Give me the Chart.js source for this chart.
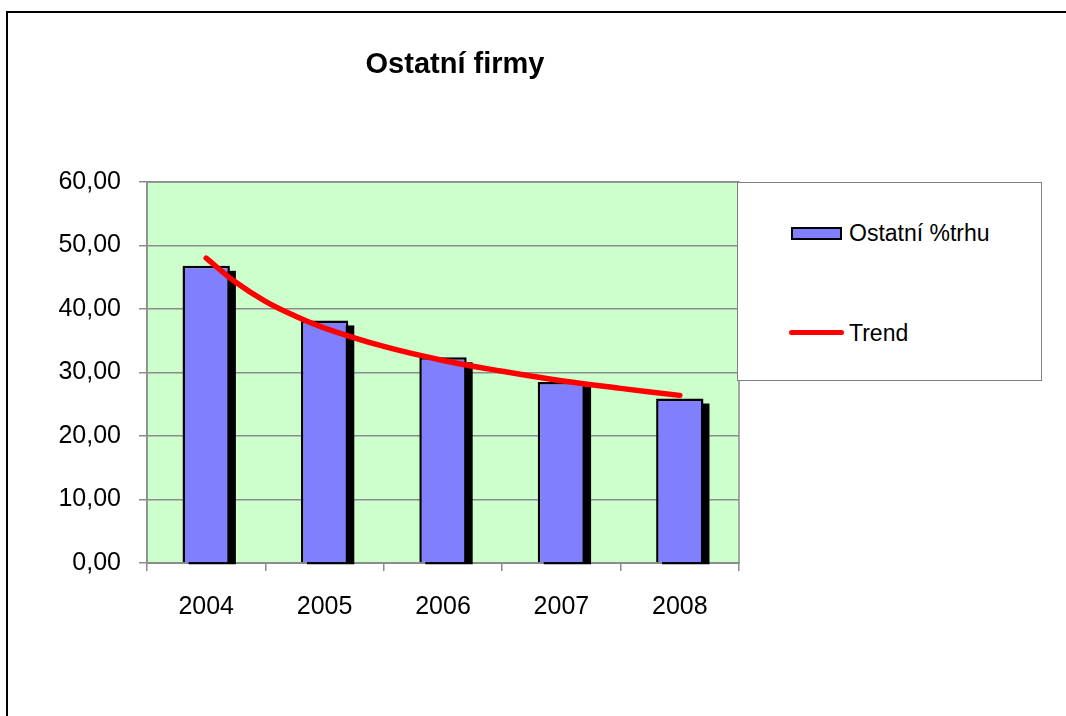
<!DOCTYPE html>
<html>
<head>
<meta charset="utf-8">
<script src="https://cdn.jsdelivr.net/npm/chart.js@4.4.1/dist/chart.umd.min.js"></script>
<style>
  html, body { margin: 0; padding: 0; background: #fff; }
  #wrap { position: relative; width: 1066px; height: 716px; overflow: hidden; font-family: "Liberation Sans", Arial, sans-serif; }
  #frame { position: absolute; left: 6px; top: 11px; width: 1100px; height: 800px; border: 2px solid #000; box-sizing: border-box; }
  #c { position: absolute; left: 0; top: 0; }
  #title { position: absolute; left: 0; width: 910px; top: 46px; text-align: center; font-weight: bold; font-size: 29px; line-height: 34px; color: #000; }
  #legend { position: absolute; left: 737px; top: 182px; width: 305px; height: 199px; border: 1px solid #808080; box-sizing: border-box; background: #fff; }
  .item { position: absolute; left: 0; font-size: 23px; line-height: 28px; color: #000; }
  .sym-bar { position: absolute; left: 53px; width: 51px; height: 13px; background: #8080FF; border: 2px solid #000; box-sizing: border-box; }
  .sym-line { position: absolute; left: 51px; width: 55px; height: 5px; background: #FF0000; border-radius: 3px; }
  .lbl { position: absolute; left: 111px; white-space: nowrap; }
</style>
</head>
<body>
<div id="wrap">
  <div id="frame"></div>
  <canvas id="c" width="1066" height="716"></canvas>
  <div id="title">Ostatní firmy</div>
  <div id="legend"></div>
</div>
<script>
// ---- data ----
const categories = ['2004', '2005', '2006', '2007', '2008'];
const barLabel = 'Ostatní %trhu';
const barValues = [46.8, 38.2, 32.4, 28.5, 25.9];
const trendLabel = 'Trend';
const trendYears = [2004, 2004.25, 2004.5, 2004.75, 2005, 2005.5, 2006, 2006.5, 2007, 2007.5, 2008];
const trendValues = [48.0, 44.2, 41.2, 38.9, 37.0, 34.1, 31.9, 30.2, 28.7, 27.5, 26.4];
const yTickLabels = ['0,00', '10,00', '20,00', '30,00', '40,00', '50,00', '60,00'];

// ---- legend (HTML) ----
const legend = document.getElementById('legend');
legend.innerHTML =
  '<div class="item" style="top:0"><div class="sym-bar" style="top:44px"></div><div class="lbl" style="top:36px">' + barLabel + '</div></div>' +
  '<div class="item" style="top:0"><div class="sym-line" style="top:147px"></div><div class="lbl" style="top:136px">' + trendLabel + '</div></div>';

const GRID = '#8c8c8c';
const FONT = "'Liberation Sans', Arial, sans-serif";

const plotDecor = {
  id: 'plotDecor',
  beforeDraw(chart) {
    const { ctx, chartArea: a } = chart;
    ctx.save();
    ctx.fillStyle = '#CCFFCC';
    ctx.fillRect(a.left, a.top, a.right - a.left, a.bottom - a.top);
    ctx.strokeStyle = GRID;
    ctx.lineWidth = 1.5;
    ctx.strokeRect(a.left, a.top, a.right - a.left, a.bottom - a.top);
    ctx.restore();
  },
  beforeDatasetsDraw(chart) {
    const { ctx } = chart;
    const meta = chart.getDatasetMeta(0);
    ctx.save();
    ctx.fillStyle = '#000';
    meta.data.forEach(el => {
      const p = el.getProps(['x', 'y', 'base', 'width'], true);
      ctx.fillRect(p.x - p.width / 2 + 6, p.y + 5, p.width, p.base + 2 - (p.y + 5));
    });
    ctx.restore();
  }
};

new Chart(document.getElementById('c'), {
  data: {
    labels: categories,
    datasets: [
      {
        type: 'bar',
        label: barLabel,
        data: barValues,
        backgroundColor: '#8080FF',
        borderColor: '#000',
        borderWidth: 2.5,
        borderSkipped: 'start',
        barPercentage: 0.4,
        categoryPercentage: 1,
        grouped: false,
        order: 2,
        xAxisID: 'x'
      },
      {
        type: 'line',
        label: trendLabel,
        data: trendYears.map((t, i) => ({ x: t, y: trendValues[i] })),
        borderColor: '#FF0000',
        borderWidth: 5.5,
        borderCapStyle: 'round',
        pointRadius: 0,
        tension: 0.4,
        fill: false,
        order: 1,
        xAxisID: 'xl'
      }
    ]
  },
  options: {
    responsive: false,
    animation: false,
    events: [],
    layout: { padding: { left: 0, top: 182, right: 327, bottom: 0 } },
    plugins: { legend: { display: false }, title: { display: false }, tooltip: { enabled: false } },
    scales: {
      x: {
        type: 'category',
        offset: true,
        z: 1,
        grid: { display: true, drawOnChartArea: false, offset: true, color: GRID, lineWidth: 1.5, tickLength: 8 },
        border: { display: true, color: GRID, width: 2 },
        ticks: { color: '#000', font: { family: FONT, size: 25 }, padding: 21, maxRotation: 0 },
        afterFit(s) { s.height = 716 - 563; }
      },
      xl: {
        type: 'linear',
        display: false,
        min: 2003.5,
        max: 2008.5
      },
      y: {
        min: 0,
        max: 60,
        ticks: {
          stepSize: 10,
          color: '#000',
          font: { family: FONT, size: 25 },
          padding: 18,
          callback: (v, i) => yTickLabels[i]
        },
        grid: { color: GRID, lineWidth: 1.5, tickLength: 8 },
        border: { display: true, color: GRID, width: 1.5 },
        afterFit(s) { s.width = 147; }
      }
    }
  },
  plugins: [plotDecor]
});
</script>
</body>
</html>
